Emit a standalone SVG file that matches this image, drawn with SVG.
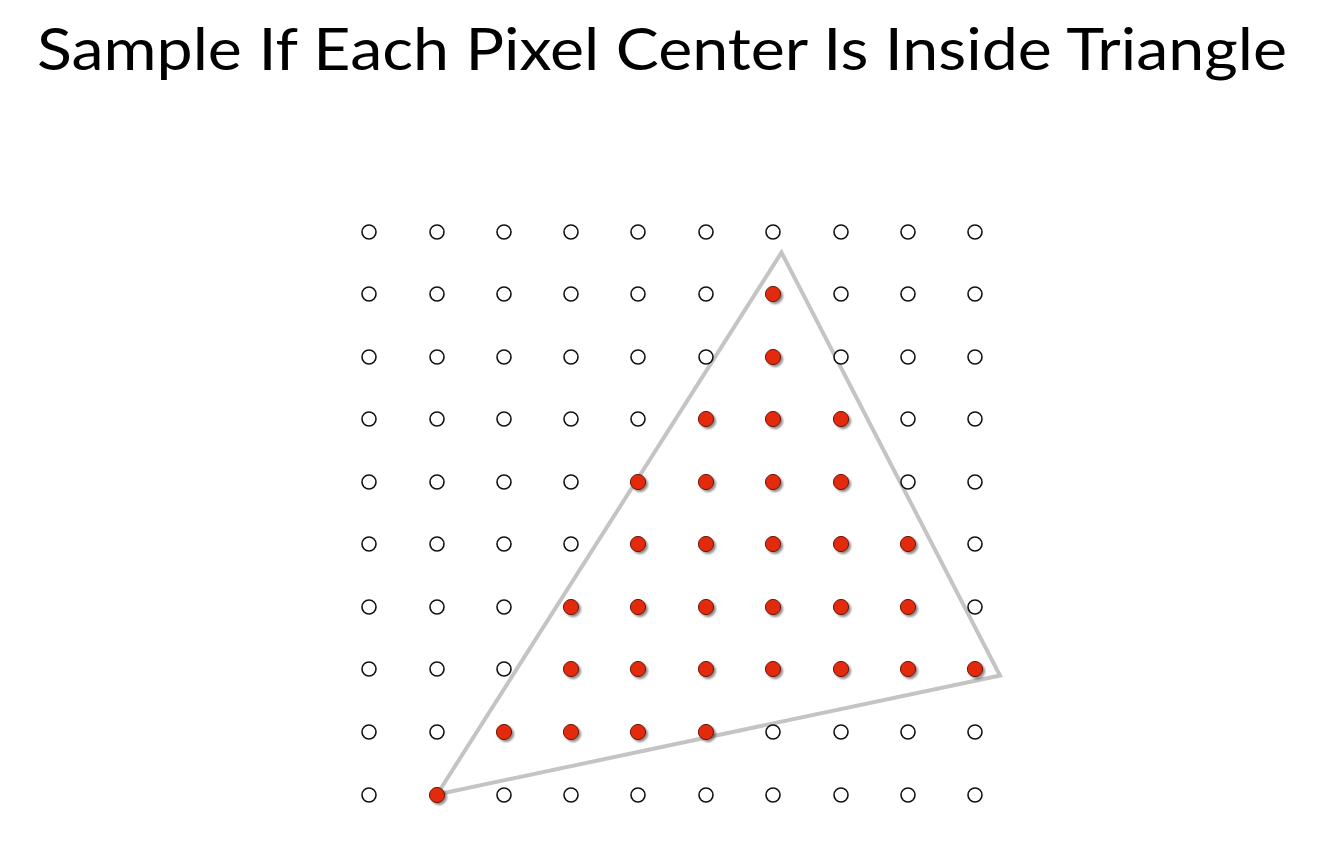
<svg xmlns="http://www.w3.org/2000/svg" width="1331" height="858" viewBox="0 0 1331 858">
<defs>
<filter id="sh" x="-50%" y="-50%" width="200%" height="200%">
<feGaussianBlur in="SourceAlpha" stdDeviation="1.3"/>
<feOffset dx="1.8" dy="1.8" result="o"/>
<feComponentTransfer><feFuncA type="linear" slope="0.45"/></feComponentTransfer>
<feMerge><feMergeNode/><feMergeNode in="SourceGraphic"/></feMerge>
</filter>
</defs>
<style>
.t{font-family:Lato,"Liberation Sans",sans-serif;font-size:58px;fill:#000}
.o{fill:#fff;stroke:#111;stroke-width:1.6}
.r{fill:#e32a0c;stroke:#6a1408;stroke-width:1}
.tri{fill:none;stroke:#c4c4c4;stroke-width:4;stroke-linejoin:miter}
</style>
<rect width="1331" height="858" fill="#fff"/>
<text id="title" class="t" x="37" y="70" textLength="1250" lengthAdjust="spacingAndGlyphs">Sample If Each Pixel Center Is Inside Triangle</text>
<g id="connectors">
<polygon class="tri" points="781.5,252.5 1000,675.5 437,794.5"/>
</g>
<g id="samples-out">
<circle class="o" cx="369" cy="232" r="7"/><circle class="o" cx="437" cy="232" r="7"/><circle class="o" cx="504" cy="232" r="7"/><circle class="o" cx="571" cy="232" r="7"/><circle class="o" cx="638" cy="232" r="7"/><circle class="o" cx="706" cy="232" r="7"/><circle class="o" cx="773" cy="232" r="7"/><circle class="o" cx="841" cy="232" r="7"/><circle class="o" cx="908" cy="232" r="7"/><circle class="o" cx="975" cy="232" r="7"/>
<circle class="o" cx="369" cy="294" r="7"/><circle class="o" cx="437" cy="294" r="7"/><circle class="o" cx="504" cy="294" r="7"/><circle class="o" cx="571" cy="294" r="7"/><circle class="o" cx="638" cy="294" r="7"/><circle class="o" cx="706" cy="294" r="7"/><circle class="o" cx="841" cy="294" r="7"/><circle class="o" cx="908" cy="294" r="7"/><circle class="o" cx="975" cy="294" r="7"/>
<circle class="o" cx="369" cy="357" r="7"/><circle class="o" cx="437" cy="357" r="7"/><circle class="o" cx="504" cy="357" r="7"/><circle class="o" cx="571" cy="357" r="7"/><circle class="o" cx="638" cy="357" r="7"/><circle class="o" cx="706" cy="357" r="7"/><circle class="o" cx="841" cy="357" r="7"/><circle class="o" cx="908" cy="357" r="7"/><circle class="o" cx="975" cy="357" r="7"/>
<circle class="o" cx="369" cy="419" r="7"/><circle class="o" cx="437" cy="419" r="7"/><circle class="o" cx="504" cy="419" r="7"/><circle class="o" cx="571" cy="419" r="7"/><circle class="o" cx="638" cy="419" r="7"/><circle class="o" cx="908" cy="419" r="7"/><circle class="o" cx="975" cy="419" r="7"/>
<circle class="o" cx="369" cy="482" r="7"/><circle class="o" cx="437" cy="482" r="7"/><circle class="o" cx="504" cy="482" r="7"/><circle class="o" cx="571" cy="482" r="7"/><circle class="o" cx="908" cy="482" r="7"/><circle class="o" cx="975" cy="482" r="7"/>
<circle class="o" cx="369" cy="544" r="7"/><circle class="o" cx="437" cy="544" r="7"/><circle class="o" cx="504" cy="544" r="7"/><circle class="o" cx="571" cy="544" r="7"/><circle class="o" cx="975" cy="544" r="7"/>
<circle class="o" cx="369" cy="607" r="7"/><circle class="o" cx="437" cy="607" r="7"/><circle class="o" cx="504" cy="607" r="7"/><circle class="o" cx="975" cy="607" r="7"/>
<circle class="o" cx="369" cy="669" r="7"/><circle class="o" cx="437" cy="669" r="7"/><circle class="o" cx="504" cy="669" r="7"/>
<circle class="o" cx="369" cy="732" r="7"/><circle class="o" cx="437" cy="732" r="7"/><circle class="o" cx="773" cy="732" r="7"/><circle class="o" cx="841" cy="732" r="7"/><circle class="o" cx="908" cy="732" r="7"/><circle class="o" cx="975" cy="732" r="7"/>
<circle class="o" cx="369" cy="795" r="7"/><circle class="o" cx="504" cy="795" r="7"/><circle class="o" cx="571" cy="795" r="7"/><circle class="o" cx="638" cy="795" r="7"/><circle class="o" cx="706" cy="795" r="7"/><circle class="o" cx="773" cy="795" r="7"/><circle class="o" cx="841" cy="795" r="7"/><circle class="o" cx="908" cy="795" r="7"/><circle class="o" cx="975" cy="795" r="7"/>
</g>
<g id="samples-in" filter="url(#sh)">
<circle class="r" cx="773" cy="294" r="7.6"/>
<circle class="r" cx="773" cy="357" r="7.6"/>
<circle class="r" cx="706" cy="419" r="7.6"/><circle class="r" cx="773" cy="419" r="7.6"/><circle class="r" cx="841" cy="419" r="7.6"/>
<circle class="r" cx="638" cy="482" r="7.6"/><circle class="r" cx="706" cy="482" r="7.6"/><circle class="r" cx="773" cy="482" r="7.6"/><circle class="r" cx="841" cy="482" r="7.6"/>
<circle class="r" cx="638" cy="544" r="7.6"/><circle class="r" cx="706" cy="544" r="7.6"/><circle class="r" cx="773" cy="544" r="7.6"/><circle class="r" cx="841" cy="544" r="7.6"/><circle class="r" cx="908" cy="544" r="7.6"/>
<circle class="r" cx="571" cy="607" r="7.6"/><circle class="r" cx="638" cy="607" r="7.6"/><circle class="r" cx="706" cy="607" r="7.6"/><circle class="r" cx="773" cy="607" r="7.6"/><circle class="r" cx="841" cy="607" r="7.6"/><circle class="r" cx="908" cy="607" r="7.6"/>
<circle class="r" cx="571" cy="669" r="7.6"/><circle class="r" cx="638" cy="669" r="7.6"/><circle class="r" cx="706" cy="669" r="7.6"/><circle class="r" cx="773" cy="669" r="7.6"/><circle class="r" cx="841" cy="669" r="7.6"/><circle class="r" cx="908" cy="669" r="7.6"/><circle class="r" cx="975" cy="669" r="7.6"/>
<circle class="r" cx="504" cy="732" r="7.6"/><circle class="r" cx="571" cy="732" r="7.6"/><circle class="r" cx="638" cy="732" r="7.6"/><circle class="r" cx="706" cy="732" r="7.6"/>
<circle class="r" cx="437" cy="795" r="7.6"/>
</g>
</svg>
